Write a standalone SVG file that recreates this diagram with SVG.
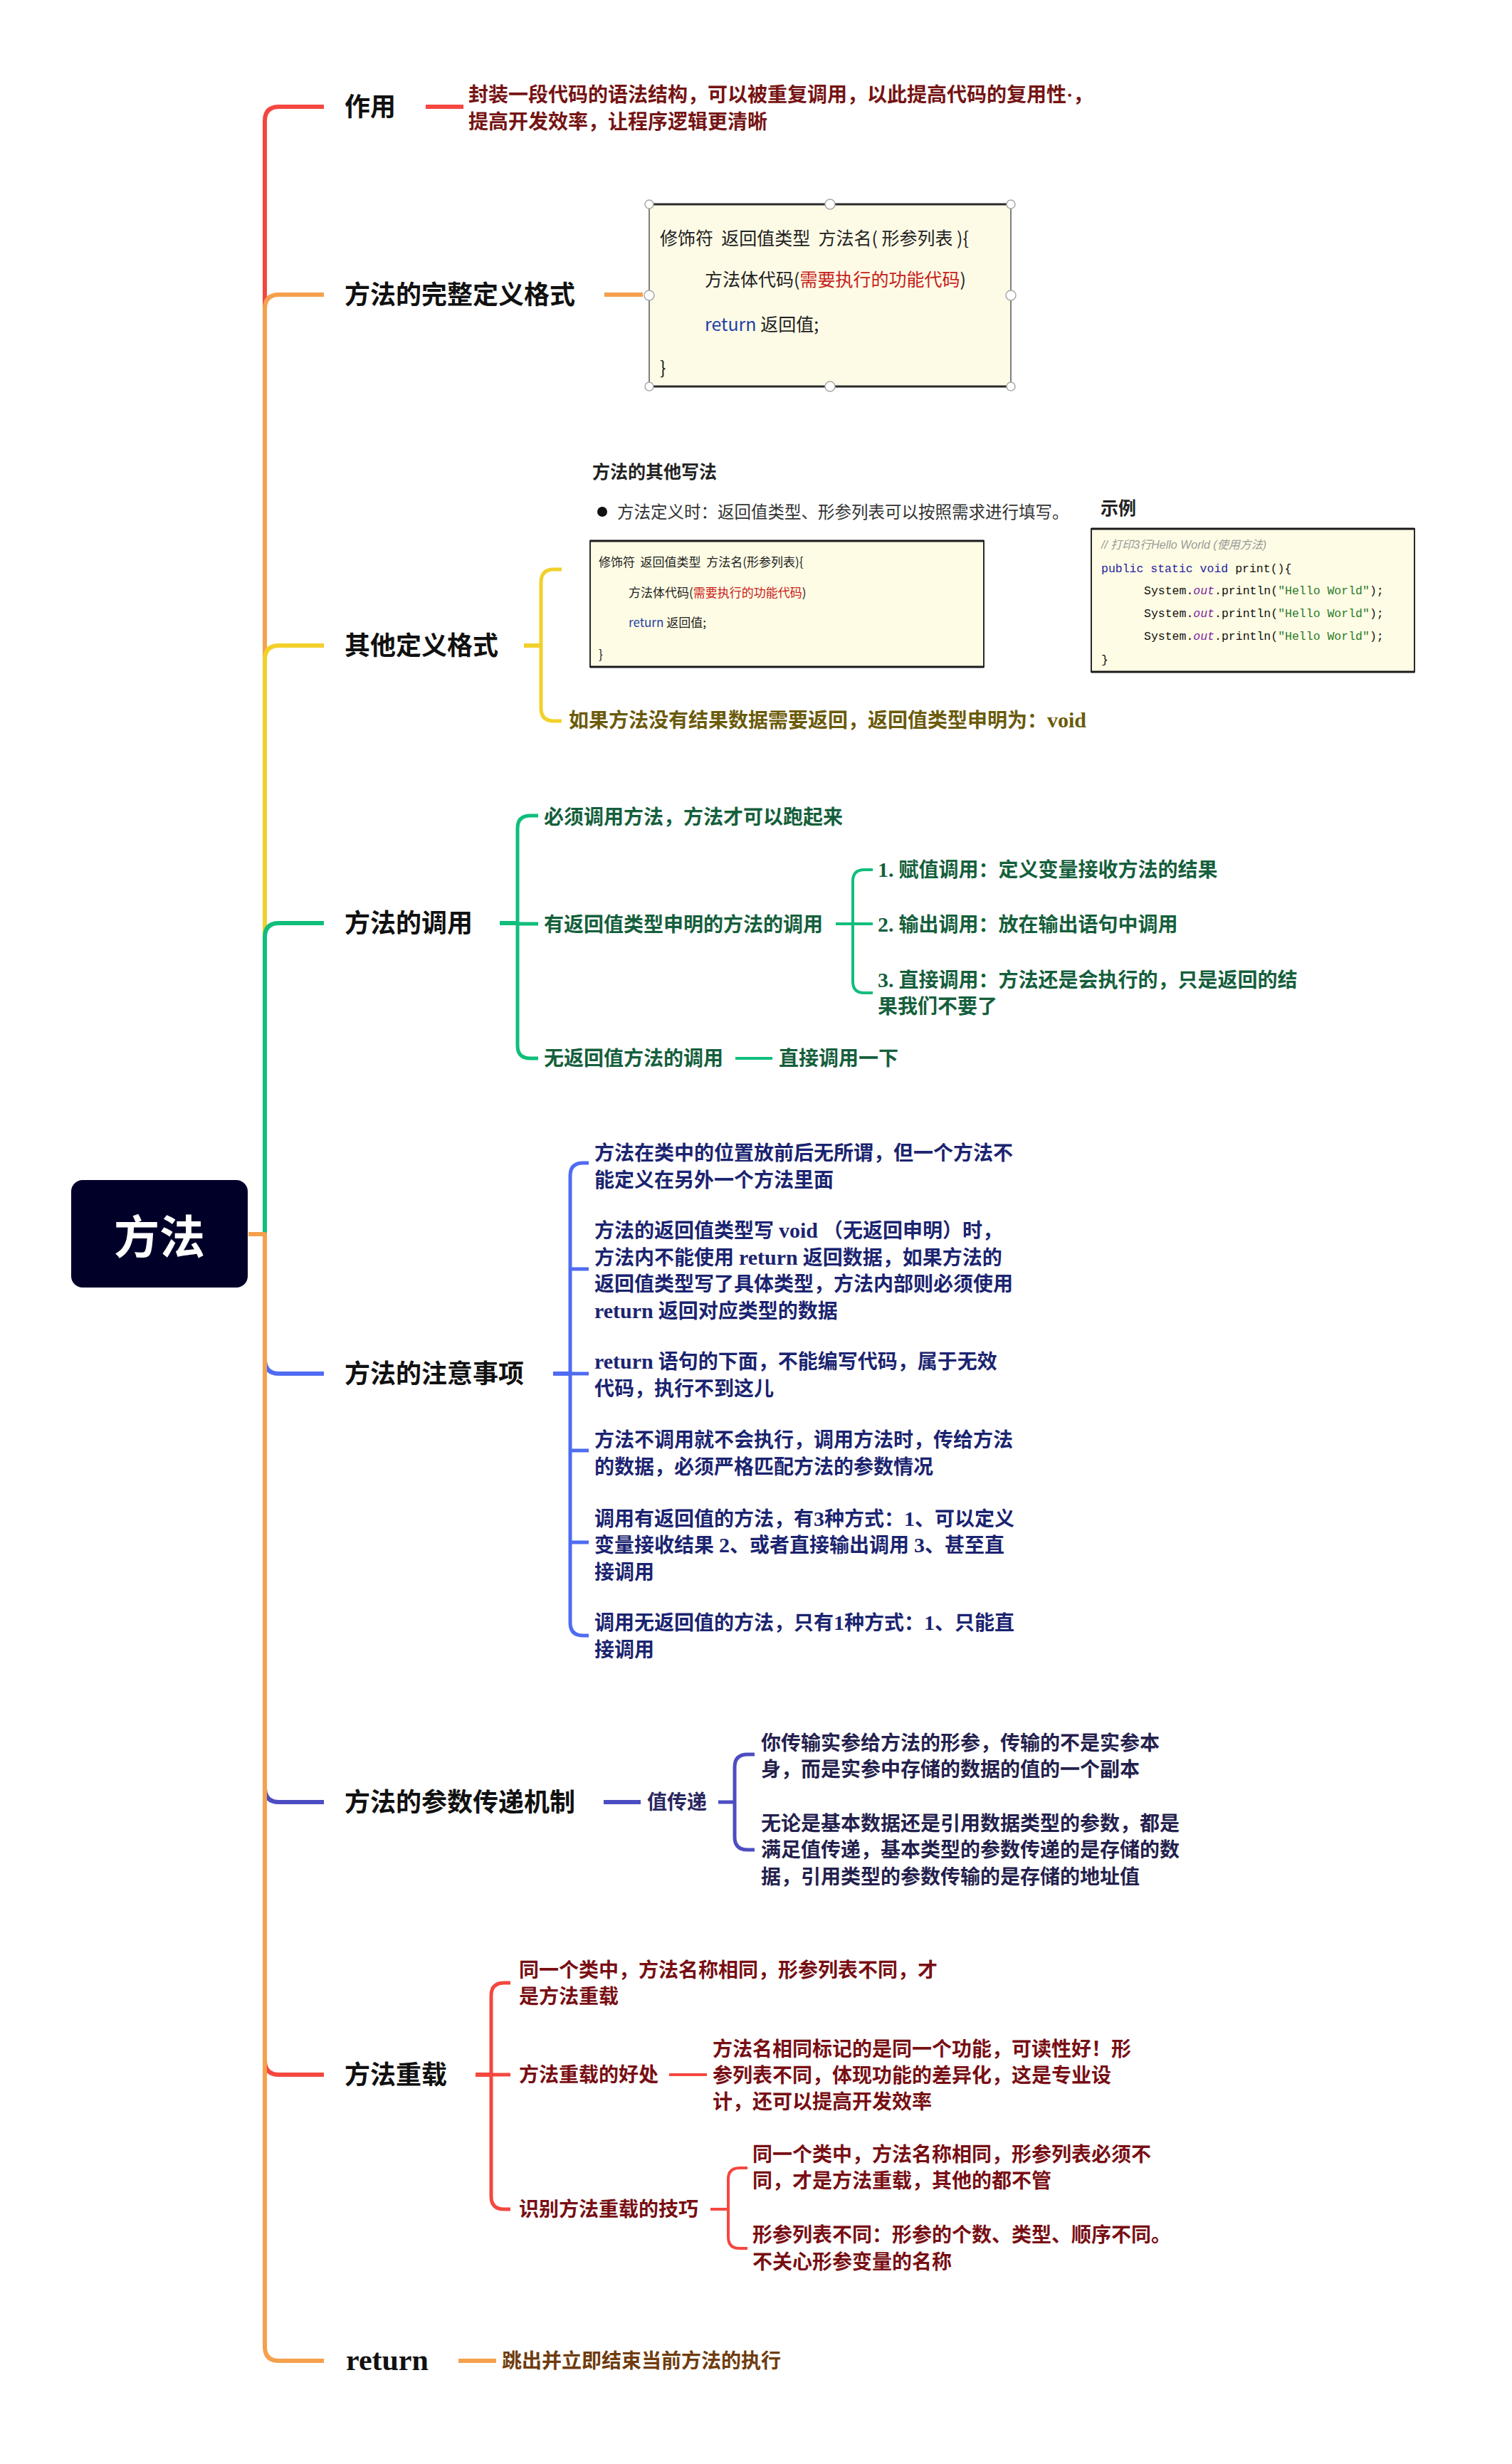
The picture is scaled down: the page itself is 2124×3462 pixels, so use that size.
<svg xmlns="http://www.w3.org/2000/svg" width="2124" height="3462" viewBox="0 0 2124 3462">
<style>
.cj{font-family:"Liberation Serif","Noto Sans CJK SC",serif;font-weight:bold;}
.sans{font-family:"Noto Sans CJK SC",sans-serif;}
.lbl{font-size:36px;fill:#111;}
.t{font-size:28px;}
.lat{font-size:30px;}
.ln{fill:none;stroke-linecap:butt;stroke-linejoin:round;}
.w6{stroke-width:6;}
.w5{stroke-width:5;}
.w4{stroke-width:4;}
.red{stroke:#F4473F;}
.org{stroke:#F5A04C;}
.yel{stroke:#F2D02A;}
.grn{stroke:#0FBE7C;}
.blu{stroke:#4F6CF2;}
.ind{stroke:#4D4DC2;}
.code{font-family:"Noto Sans CJK SC",sans-serif;fill:#222;}
.mono{font-family:"Liberation Mono",monospace;font-size:16.5px;fill:#111;}
.box{fill:#FEFCE4;stroke:#2a2a2a;stroke-width:2;}
.hd{fill:#fff;stroke:#a8a8a8;stroke-width:1.5;}
</style>

<rect x="0" y="0" width="2124" height="3462" fill="#ffffff"/>

<g id="connectors">
  <path class="ln w6 red" d="M349,1734 H372 V170 Q372,150 392,150 H455"/>
  <path class="ln w6 org" d="M349,1734 H372 V434 Q372,414 392,414 H455"/>
  <path class="ln w6 yel" d="M349,1734 H372 V927 Q372,907 392,907 H455"/>
  <path class="ln w6 grn" d="M349,1734 H372 V1317 Q372,1297 392,1297 H455"/>
  <path class="ln w6 blu" d="M349,1734 H372 V1910 Q372,1930 392,1930 H455"/>
  <path class="ln w6 ind" d="M349,1734 H372 V2512 Q372,2532 392,2532 H455"/>
  <path class="ln w6 red" d="M349,1734 H372 V2895 Q372,2915 392,2915 H455"/>
  <path class="ln w6 org" d="M349,1734 H372 V3297 Q372,3317 392,3317 H455"/>

  <path class="ln w6 red" d="M598,150 H651"/>
  <path class="ln w6 org" d="M849,414 H903"/>
  <path class="ln w6 yel" d="M736,907 H760"/>
  <path class="ln w5 yel" d="M789,800 H778 Q760,800 760,818 V995 Q760,1013 778,1013 H789"/>
  <path class="ln w6 grn" d="M702,1297 H727"/>
  <path class="ln w5 grn" d="M756,1146 H745 Q727,1146 727,1164 V1469 Q727,1487 745,1487 H756"/>
  <path class="ln w5 grn" d="M727,1298 H756"/>
  <path class="ln w4 grn" d="M1174,1298 H1198"/>
  <path class="ln w4 grn" d="M1226,1222 H1214 Q1198,1222 1198,1238 V1379 Q1198,1395 1214,1395 H1226"/>
  <path class="ln w4 grn" d="M1198,1298 H1226"/>
  <path class="ln w4 grn" d="M1033,1487 H1085"/>
  <path class="ln w6 blu" d="M777,1930 H801"/>
  <path class="ln w5 blu" d="M827,1634 H819 Q801,1634 801,1652 V2280 Q801,2298 819,2298 H827"/>
  <path class="ln w5 blu" d="M801,1783 H827 M801,1930 H827 M801,2038 H827 M801,2167 H827"/>
  <path class="ln w6 ind" d="M848,2532 H900"/>
  <path class="ln w5 ind" d="M1009,2532 H1032"/>
  <path class="ln w5 ind" d="M1060,2465 H1050 Q1032,2465 1032,2483 V2581 Q1032,2599 1050,2599 H1060"/>
  <path class="ln w6 red" d="M668,2915 H690"/>
  <path class="ln w5 red" d="M717,2786 H708 Q690,2786 690,2804 V3086 Q690,3104 708,3104 H717"/>
  <path class="ln w5 red" d="M690,2915 H717"/>
  <path class="ln w4 red" d="M940,2915 H993"/>
  <path class="ln w4 red" d="M998,3104 H1023"/>
  <path class="ln w4 red" d="M1050,3046 H1039 Q1023,3046 1023,3062 V3143 Q1023,3159 1039,3159 H1050"/>
  <path class="ln w6 org" d="M644,3317 H697"/>
</g>

<g id="root">
  <rect x="100" y="1658" width="248" height="151" rx="16" fill="#000028"/>
  <text x="224" y="1761" text-anchor="middle" class="sans" font-weight="bold" font-size="64" fill="#ffffff">方法</text>
</g>

<g id="n-zuoyong">
  <text x="484" y="163" class="cj lbl">作用</text>
</g>
<g id="n-zuoyong-desc">
  <text class="cj t" fill="#751414"><tspan x="658" y="143">封装一段代码的语法结构，可以被重复调用，以此提高代码的复用性·，</tspan><tspan x="658" y="181">提高开发效率，让程序逻辑更清晰</tspan></text>
</g>

<g id="n-wanzheng">
  <text x="484" y="427" class="cj lbl">方法的完整定义格式</text>
</g>
<g id="n-wanzheng-box">
  <rect x="912" y="287" width="508" height="256" fill="#FDFBE6" stroke="#555" stroke-width="1.5"/>
  <path d="M912,287 H1420 M912,543 H1420" stroke="#2a2a2a" stroke-width="3" fill="none"/>
  <circle class="hd" cx="912" cy="287" r="6"/>
  <circle class="hd" cx="1166" cy="287" r="7"/>
  <circle class="hd" cx="1420" cy="287" r="6"/>
  <circle class="hd" cx="912" cy="415" r="7"/>
  <circle class="hd" cx="1420" cy="415" r="7"/>
  <circle class="hd" cx="912" cy="543" r="6"/>
  <circle class="hd" cx="1166" cy="543" r="7"/>
  <circle class="hd" cx="1420" cy="543" r="6"/>
  <text x="927" y="344" class="code" font-size="25" xml:space="preserve">修饰符  返回值类型  方法名( 形参列表 ){</text>
  <text x="990" y="402" class="code" font-size="25">方法体代码(<tspan fill="#C8201A">需要执行的功能代码</tspan>)</text>
  <text x="990" y="465" class="code" font-size="25"><tspan fill="#1F3FA8">return</tspan> 返回值;</text>
  <text x="927" y="526" class="code" font-size="25">}</text>
</g>

<g id="n-qita">
  <text x="484" y="920" class="cj lbl">其他定义格式</text>
</g>
<g id="n-qita-image">
  <text x="832" y="672" class="sans" font-weight="bold" font-size="25" fill="#222">方法的其他写法</text>
  <circle cx="846" cy="719" r="7" fill="#111"/>
  <text x="867" y="728" class="sans" font-size="23.5" fill="#333">方法定义时：返回值类型、形参列表可以按照需求进行填写。</text>
  <text x="1546" y="723" class="sans" font-weight="bold" font-size="25" fill="#222">示例</text>
  <rect class="box" x="829" y="760" width="553" height="177"/>
  <path d="M829,760 H1382 M829,937 H1382" stroke="#1a1a1a" stroke-width="3" fill="none"/>
  <text x="841" y="796" class="code" font-size="17" xml:space="preserve">修饰符  返回值类型  方法名(形参列表){</text>
  <text x="883" y="839" class="code" font-size="17">方法体代码(<tspan fill="#C8201A">需要执行的功能代码</tspan>)</text>
  <text x="883" y="881" class="code" font-size="17"><tspan fill="#1F3FA8">return</tspan> 返回值;</text>
  <text x="841" y="926" class="code" font-size="17">}</text>
  <rect class="box" x="1533" y="743" width="454" height="201"/>
  <path d="M1533,743 H1987 M1533,944 H1987" stroke="#1a1a1a" stroke-width="3" fill="none"/>
  <text x="1547" y="771" font-family="Liberation Sans,Noto Sans CJK SC,sans-serif" font-style="italic" font-size="16" fill="#9a9a9a">// 打印3行Hello World (使用方法)</text>
  <text x="1547" y="804" class="mono"><tspan fill="#2323A0">public static void</tspan> print(){</text>
  <text x="1607" y="835" class="mono">System.<tspan fill="#7B1FA2" font-style="italic">out</tspan>.println(<tspan fill="#2A7A2A">"Hello World"</tspan>);</text>
  <text x="1607" y="867" class="mono">System.<tspan fill="#7B1FA2" font-style="italic">out</tspan>.println(<tspan fill="#2A7A2A">"Hello World"</tspan>);</text>
  <text x="1607" y="899" class="mono">System.<tspan fill="#7B1FA2" font-style="italic">out</tspan>.println(<tspan fill="#2A7A2A">"Hello World"</tspan>);</text>
  <text x="1547" y="932" class="mono">}</text>
</g>
<g id="n-qita-void">
  <text x="799" y="1022" class="cj t" fill="#6B5B0B">如果方法没有结果数据需要返回，返回值类型申明为：<tspan class="lat">void</tspan></text>
</g>

<g id="n-diaoyong">
  <text x="484" y="1310" class="cj lbl">方法的调用</text>
</g>
<g id="n-diaoyong-1"><text x="764" y="1158" class="cj t" fill="#155F3C">必须调用方法，方法才可以跑起来</text></g>
<g id="n-diaoyong-2"><text x="764" y="1309" class="cj t" fill="#155F3C">有返回值类型申明的方法的调用</text></g>
<g id="n-diaoyong-2a"><text x="1233" y="1232" class="cj t" fill="#155F3C"><tspan class="lat">1.</tspan> 赋值调用：定义变量接收方法的结果</text></g>
<g id="n-diaoyong-2b"><text x="1233" y="1309" class="cj t" fill="#155F3C"><tspan class="lat">2.</tspan> 输出调用：放在输出语句中调用</text></g>
<g id="n-diaoyong-2c"><text class="cj t" fill="#155F3C"><tspan x="1233" y="1387"><tspan class="lat">3.</tspan> 直接调用：方法还是会执行的，只是返回的结</tspan><tspan x="1233" y="1424">果我们不要了</tspan></text></g>
<g id="n-diaoyong-3"><text x="764" y="1497" class="cj t" fill="#155F3C">无返回值方法的调用</text></g>
<g id="n-diaoyong-3a"><text x="1094" y="1497" class="cj t" fill="#155F3C">直接调用一下</text></g>

<g id="n-zhuyi">
  <text x="484" y="1943" class="cj lbl">方法的注意事项</text>
</g>
<g id="n-zhuyi-1"><text class="cj t" fill="#1B2470"><tspan x="835" y="1630">方法在类中的位置放前后无所谓，但一个方法不</tspan><tspan x="835" y="1668">能定义在另外一个方法里面</tspan></text></g>
<g id="n-zhuyi-2"><text class="cj t" fill="#1B2470"><tspan x="835" y="1739">方法的返回值类型写 <tspan class="lat">void</tspan> （无返回申明）时，</tspan><tspan x="835" y="1777">方法内不能使用 <tspan class="lat">return</tspan> 返回数据，如果方法的</tspan><tspan x="835" y="1814">返回值类型写了具体类型，方法内部则必须使用</tspan><tspan x="835" y="1852"><tspan class="lat">return</tspan> 返回对应类型的数据</tspan></text></g>
<g id="n-zhuyi-3"><text class="cj t" fill="#1B2470"><tspan x="835" y="1923"><tspan class="lat">return</tspan> 语句的下面，不能编写代码，属于无效</tspan><tspan x="835" y="1961">代码，执行不到这儿</tspan></text></g>
<g id="n-zhuyi-4"><text class="cj t" fill="#1B2470"><tspan x="835" y="2033">方法不调用就不会执行，调用方法时，传给方法</tspan><tspan x="835" y="2071">的数据，必须严格匹配方法的参数情况</tspan></text></g>
<g id="n-zhuyi-5"><text class="cj t" fill="#1B2470"><tspan x="835" y="2144">调用有返回值的方法，有<tspan class="lat">3</tspan>种方式：<tspan class="lat">1</tspan>、可以定义</tspan><tspan x="835" y="2181">变量接收结果 <tspan class="lat">2</tspan>、或者直接输出调用 <tspan class="lat">3</tspan>、甚至直</tspan><tspan x="835" y="2219">接调用</tspan></text></g>
<g id="n-zhuyi-6"><text class="cj t" fill="#1B2470"><tspan x="835" y="2290">调用无返回值的方法，只有<tspan class="lat">1</tspan>种方式：<tspan class="lat">1</tspan>、只能直</tspan><tspan x="835" y="2328">接调用</tspan></text></g>

<g id="n-canshu">
  <text x="484" y="2545" class="cj lbl">方法的参数传递机制</text>
</g>
<g id="n-canshu-zhi"><text x="909" y="2542" class="cj t" fill="#2A2760">值传递</text></g>
<g id="n-canshu-1"><text class="cj t" fill="#24214D"><tspan x="1069" y="2459">你传输实参给方法的形参，传输的不是实参本</tspan><tspan x="1069" y="2496">身，而是实参中存储的数据的值的一个副本</tspan></text></g>
<g id="n-canshu-2"><text class="cj t" fill="#24214D"><tspan x="1069" y="2572">无论是基本数据还是引用数据类型的参数，都是</tspan><tspan x="1069" y="2609">满足值传递，基本类型的参数传递的是存储的数</tspan><tspan x="1069" y="2647">据，引用类型的参数传输的是存储的地址值</tspan></text></g>

<g id="n-chongzai">
  <text x="484" y="2928" class="cj lbl">方法重载</text>
</g>
<g id="n-chongzai-1"><text class="cj t" fill="#780F14"><tspan x="729" y="2778">同一个类中，方法名称相同，形参列表不同，才</tspan><tspan x="729" y="2815">是方法重载</tspan></text></g>
<g id="n-chongzai-2"><text x="729" y="2925" class="cj t" fill="#780F14">方法重载的好处</text></g>
<g id="n-chongzai-2a"><text class="cj t" fill="#780F14"><tspan x="1001" y="2889">方法名相同标记的是同一个功能，可读性好！形</tspan><tspan x="1001" y="2926">参列表不同，体现功能的差异化，这是专业设</tspan><tspan x="1001" y="2963">计，还可以提高开发效率</tspan></text></g>
<g id="n-chongzai-3"><text x="729" y="3114" class="cj t" fill="#780F14">识别方法重载的技巧</text></g>
<g id="n-chongzai-3a"><text class="cj t" fill="#780F14"><tspan x="1057" y="3037">同一个类中，方法名称相同，形参列表必须不</tspan><tspan x="1057" y="3074">同，才是方法重载，其他的都不管</tspan></text></g>
<g id="n-chongzai-3b"><text class="cj t" fill="#780F14"><tspan x="1057" y="3150">形参列表不同：形参的个数、类型、顺序不同。</tspan><tspan x="1057" y="3188">不关心形参变量的名称</tspan></text></g>

<g id="n-return">
  <text x="486" y="3330" font-family="Liberation Serif,serif" font-weight="bold" font-size="42" fill="#111">return</text>
</g>
<g id="n-return-desc"><text x="705" y="3327" class="cj t" fill="#703C0E">跳出并立即结束当前方法的执行</text></g>
</svg>
